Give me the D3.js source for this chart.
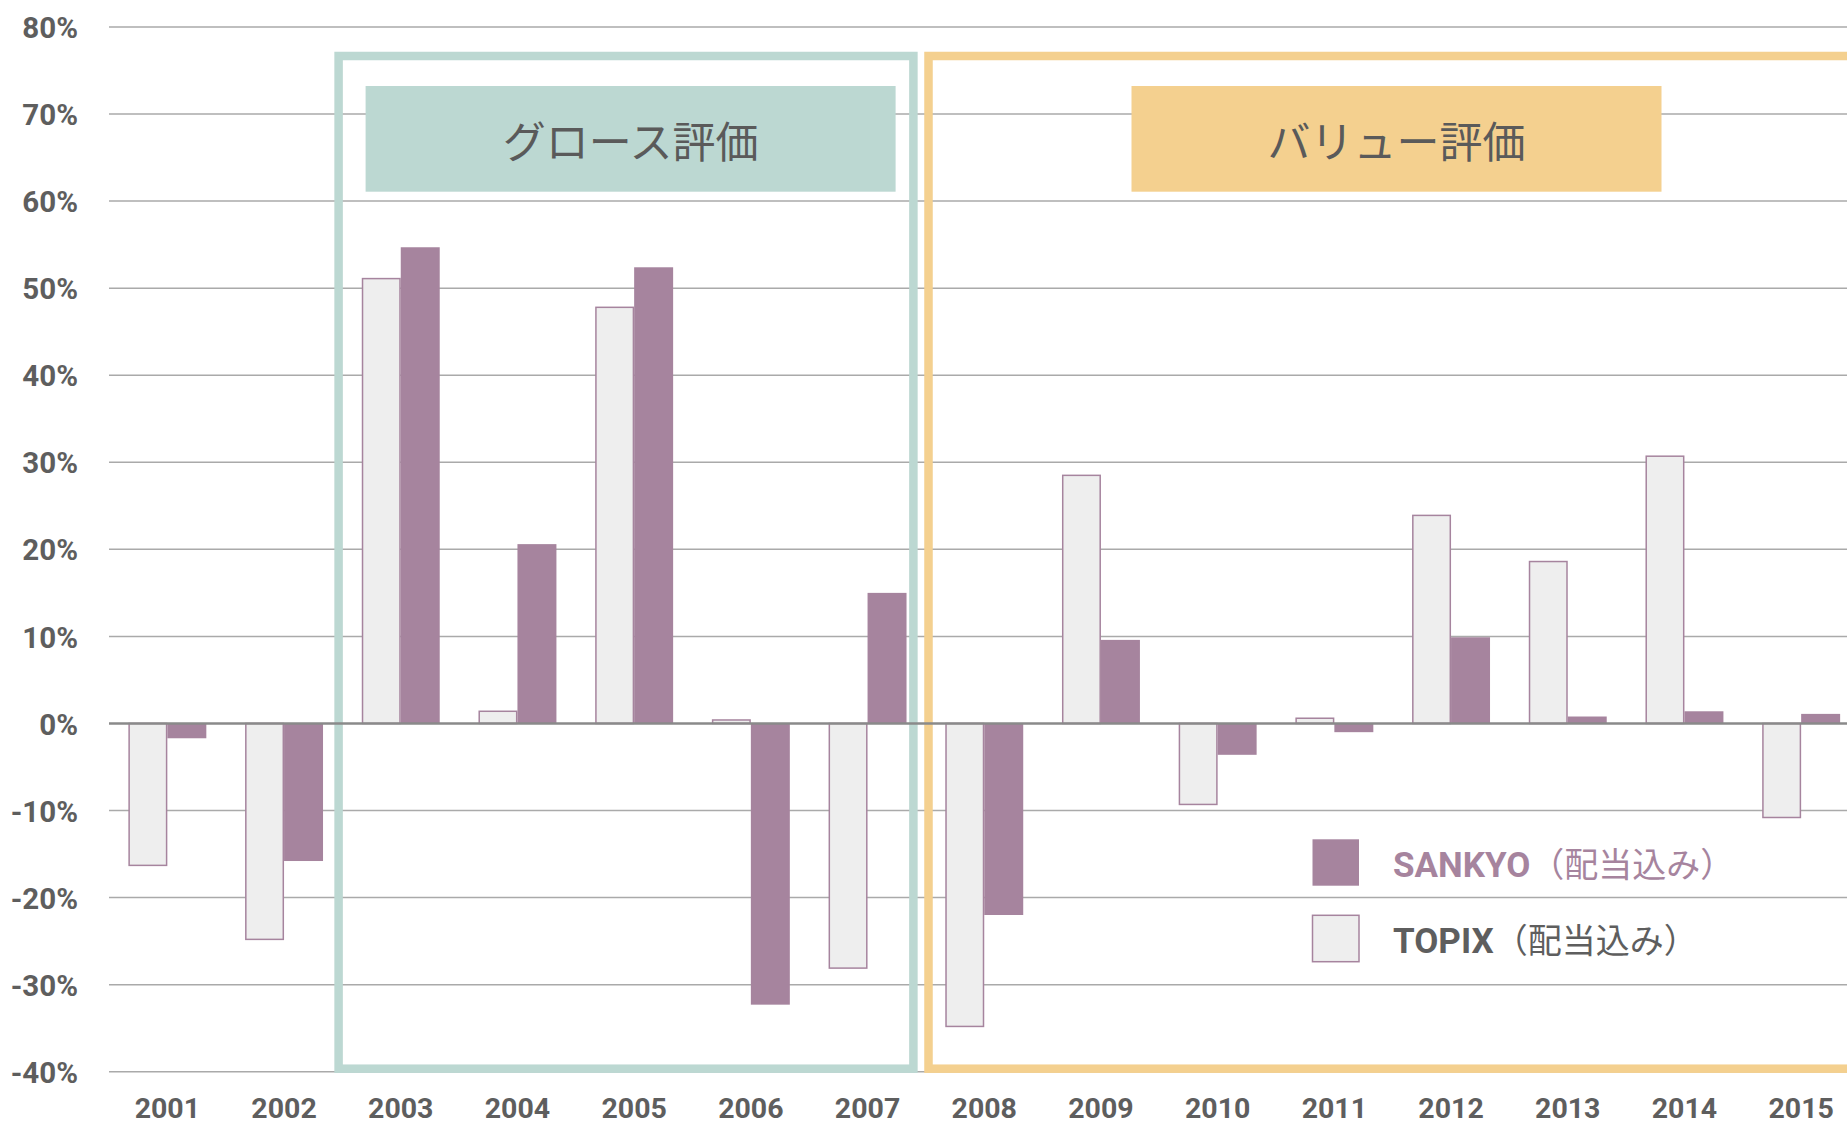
<!DOCTYPE html>
<html><head><meta charset="utf-8">
<script src="https://cdn.jsdelivr.net/npm/d3@7"></script>
<style>body{margin:0;background:#fff}svg{display:block}</style>
</head><body>
<script>
const years = ["2001","2002","2003","2004","2005","2006","2007","2008","2009","2010","2011","2012","2013","2014","2015"];
const topix  = [-16.3,-24.8,51.1,1.4,47.8,0.4,-28.1,-34.8,28.5,-9.3,0.6,23.9,18.6,30.7,-10.8];
const sankyo = [-1.7,-15.8,54.7,20.6,52.4,-32.3,15.0,-22.0,9.6,-3.6,-1.0,9.9,0.8,1.4,1.1];
const yTicks = [80,70,60,50,40,30,20,10,0,-10,-20,-30,-40];
const seriesNames = ["SANKYO","TOPIX"];
const legendSuffix = "（配当込み）";
const regionLabels = ["グロース評価","バリュー評価"];
const regionFrom = ["2003","2008"];
const regionTo = ["2007","2015"];

const W=1847,H=1126;
const svg=d3.select("body").append("svg").attr("width",W).attr("height",H);
const step=116.7, x0=109;
const p=0.332;
const x=d3.scaleBand().domain(years).range([x0,x0+years.length*step]).paddingInner(p).paddingOuter(p/2);
const xs=d3.scaleBand().domain(["TOPIX","SANKYO"]).range([0,x.bandwidth()]);
const y=d3.scaleLinear().domain([-40,80]).range([1071.7,27]);

const purple="#a6849e", light="#eeeeee", grey="#5e5e5e";
const green="#bcd8d2", orange="#f4d08f";

// gridlines
svg.append("g").selectAll("line").data(yTicks.filter(d=>d!==0)).join("line")
  .attr("x1",x0).attr("x2",W).attr("y1",d=>y(d)).attr("y2",d=>y(d))
  .attr("stroke","#aaaaaa").attr("stroke-width",1.5);

// y axis labels
const yAxis=d3.axisLeft(y).tickValues(yTicks).tickFormat(d=>d+"%").tickSize(0).tickPadding(0);
const ya=svg.append("g").attr("transform","translate(78,0)").call(yAxis);
ya.select(".domain").remove();
ya.selectAll("text").attr("font-family","Roboto, sans-serif").attr("font-weight","bold")
  .attr("font-size",29.5).attr("fill",grey).attr("dy","0.36em");

// x axis labels
const xAxis=d3.axisBottom(x).tickSize(0).tickPadding(0);
const xa=svg.append("g").attr("transform","translate(0,1118)").call(xAxis);
xa.select(".domain").remove();
xa.selectAll("text").attr("font-family","Roboto, sans-serif").attr("font-weight","bold")
  .attr("font-size",28.5).attr("fill",grey).attr("dy",0);

// region boxes
const regions=regionLabels.map((l,i)=>({label:l,from:regionFrom[i],to:regionTo[i],i}));
const boxTop=y(80)+29, boxBot=y(-40)-3;
const bx=[x(regionFrom[0])-x.step()*p/2-3.8, x(regionTo[0])+x.bandwidth()+x.step()*p/2-12.5];
const ox=x(regionFrom[1])-x.step()*p/2+2.6;
svg.append("rect").attr("x",bx[0]).attr("y",boxTop).attr("width",bx[1]-bx[0]).attr("height",boxBot-boxTop)
  .attr("fill","none").attr("stroke",green).attr("stroke-width",8.5);
svg.append("rect").attr("x",ox).attr("y",boxTop).attr("width",W+50-ox).attr("height",boxBot-boxTop)
  .attr("fill","none").attr("stroke",orange).attr("stroke-width",8.5);

// region labels
const labX=[bx[0]+27, ox+203];
regions.forEach((r,i)=>{
  svg.append("rect").attr("x",labX[i]).attr("y",86).attr("width",530).attr("height",105.7)
    .attr("fill",i===0?green:orange);
  svg.append("text").attr("x",labX[i]+265).attr("y",139).attr("text-anchor","middle")
    .attr("dominant-baseline","central")
    .attr("font-family","'Noto Sans CJK JP', sans-serif").attr("font-size",43)
    .attr("fill","#5a5a5a").text(r.label);
});

// bars
const data=years.map((yr,i)=>({yr,TOPIX:topix[i],SANKYO:sankyo[i]}));
const g=svg.append("g").selectAll("g").data(data).join("g").attr("transform",d=>`translate(${x(d.yr)},0)`);
g.append("rect").attr("x",xs("TOPIX")+0.75).attr("width",xs.bandwidth()-1.5)
  .attr("y",d=>y(Math.max(0,d.TOPIX))).attr("height",d=>Math.abs(y(d.TOPIX)-y(0)))
  .attr("fill",light).attr("stroke",purple).attr("stroke-width",1.5);
g.append("rect").attr("x",xs("SANKYO")).attr("width",xs.bandwidth())
  .attr("y",d=>y(Math.max(0,d.SANKYO))).attr("height",d=>Math.abs(y(d.SANKYO)-y(0)))
  .attr("fill",purple);

// zero line
svg.append("line").attr("x1",x0).attr("x2",W).attr("y1",y(0)).attr("y2",y(0))
  .attr("stroke","#8a8a8a").attr("stroke-width",2.5);

// legend
const leg=svg.append("g");
const legY=[839.3,915.3];
seriesNames.forEach((s,i)=>{
  const r=leg.append("rect").attr("x",1312.5).attr("y",legY[i]).attr("width",46.5).attr("height",46.4);
  if(i===0) r.attr("fill",purple); else r.attr("fill",light).attr("stroke",purple).attr("stroke-width",1.5);
  const t=leg.append("text").attr("x",1393).attr("y",legY[i]+37.5)
    .attr("font-size",35).attr("fill",i===0?purple:grey);
  t.append("tspan").attr("font-family","Roboto, sans-serif").attr("font-weight","bold").text(s);
  t.append("tspan").attr("font-family","'Noto Sans CJK JP', sans-serif").attr("font-weight","normal").attr("font-size",34).text(legendSuffix);
});
</script>
</body></html>
